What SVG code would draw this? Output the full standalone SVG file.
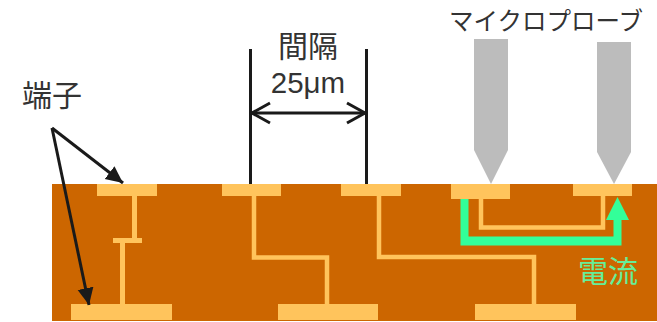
<svg xmlns="http://www.w3.org/2000/svg" width="657" height="322" viewBox="0 0 657 322">
<style>
.pad{fill:#ffc45c}
.tr{fill:none;stroke:#ffc45c;stroke-width:4.500;stroke-linejoin:miter}
.probe{fill:#bcbcbc}
.ln{fill:none;stroke:#1a1a1a;stroke-width:3}
.t{font-family:"Noto Sans CJK JP","Liberation Sans",sans-serif;fill:#333;text-anchor:middle}
</style>
<defs>
<marker id="solid" markerUnits="userSpaceOnUse" markerWidth="18" markerHeight="18" refX="17" refY="8" orient="auto"><path d="M0 0L17 8L0 16Z" fill="#1a1a1a"/></marker>
<marker id="open" markerUnits="userSpaceOnUse" markerWidth="24" markerHeight="26" refX="21" refY="12" orient="auto-start-reverse"><path d="M2 2L20 12L2 22" fill="none" stroke="#1a1a1a" stroke-width="3"/></marker>
</defs>
<rect id="board" x="52" y="184" width="605" height="137" fill="#cc6600"/>
<g id="traces">
<path class="tr" style="stroke-width:5" d="M134.500 196V240"/><path class="tr" style="stroke-width:5" d="M122.500 240V304"/>
<path class="tr" d="M254 196V257.500H327V304"/>
<path class="tr" d="M379 196V257H534V304"/>
<path class="tr" d="M481 199V227.500H603V196"/>
</g>
<g id="pad-top-1"><rect class="pad" x="97" y="184" width="60" height="12"/></g>
<g id="via"><rect class="pad" x="113" y="238" width="29" height="5"/></g>
<g id="pad-bottom-1"><rect class="pad" x="71" y="304" width="101" height="16"/></g>
<g id="pad-top-2"><rect class="pad" x="222" y="184" width="59" height="12"/></g>
<g id="pad-bottom-2"><rect class="pad" x="278" y="304" width="100" height="16"/></g>
<g id="pad-top-3"><rect class="pad" x="341" y="184" width="60" height="12"/></g>
<g id="pad-bottom-3"><rect class="pad" x="475" y="304" width="101" height="16"/></g>
<g id="pad-top-4"><rect class="pad" x="451" y="184" width="59" height="15"/></g>
<g id="pad-top-5"><rect class="pad" x="573" y="184" width="59" height="12"/></g>
<g id="probe-1"><path class="probe" d="M474 39H508V150L491 184L474 150Z"/></g>
<g id="probe-2"><path class="probe" d="M597 42H631V152L614 184L597 152Z"/></g>
<g id="current">
<path d="M460.500 199H468.500V236.500H613.500V220H606L617.500 197L629 220H621.500V245.500H460.500Z" fill="#33ff99"/>
<text x="608" y="282" font-size="30" class="t" style="fill:#66ee99">電流</text>
</g>
<g id="connectors">
<path class="ln" d="M52 128L123 183" marker-end="url(#solid)"/>
<path class="ln" d="M52 128L89 305" marker-end="url(#solid)"/>
<path class="ln" d="M250.500 49V184"/>
<path class="ln" d="M366.500 49V184"/>
<path class="ln" d="M251 113H366" marker-start="url(#open)" marker-end="url(#open)"/>
</g>
<g id="labels">
<text x="52" y="106" font-size="30" class="t">端子</text>
<text x="308" y="57" font-size="30" class="t">間隔</text>
<text x="308" y="93" font-size="29.500" class="t" style="font-family:'Liberation Sans',sans-serif">25μm</text>
<text x="546" y="30" font-size="24.500" class="t">マイクロプローブ</text>
</g>
</svg>
